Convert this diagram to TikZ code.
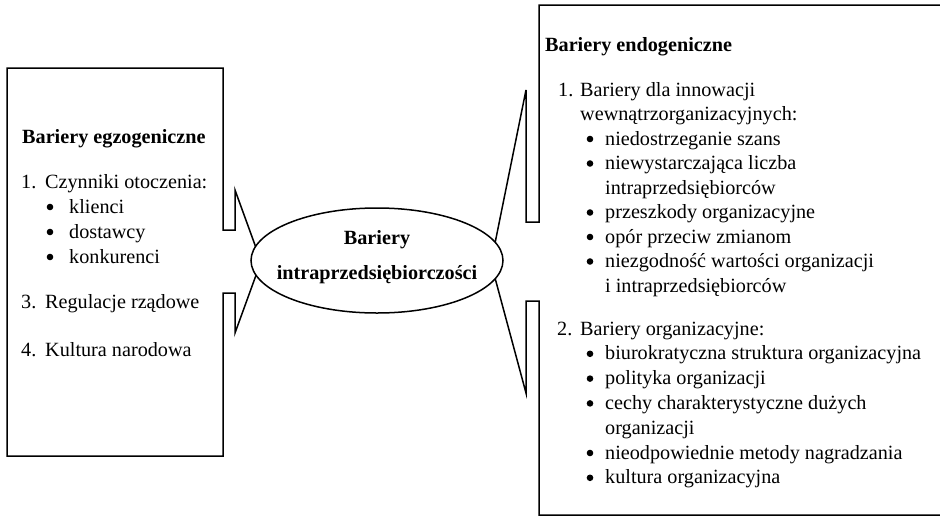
\documentclass[tikz,border=0pt]{standalone}
\usepackage{fontspec}
\setmainfont{Liberation Serif}
\usetikzlibrary{shapes.geometric}
\begin{document}
\begin{tikzpicture}[x=1pt,y=-1pt,
  outline/.style={line width=1.5pt, line join=miter},
  txt/.style={anchor=base west, inner sep=0pt, font=\fontsize{20.2}{24}\selectfont},
  head/.style={anchor=base west, inner sep=0pt, font=\fontsize{20.2}{24}\selectfont\bfseries},
  bul/.style={circle, fill, inner sep=0pt, minimum size=6.6pt, yshift=6pt},
  ctr/.style={anchor=base, inner sep=0pt, font=\fontsize{20.2}{24}\selectfont\bfseries}]
\useasboundingbox (0,0) rectangle (940,517);
\clip (0,0) rectangle (940,517);

% pointer tips of the two callouts (hidden under the ellipse)
\coordinate (ltip) at (261,261.5);
\coordinate (rtip) at (491,263);

% left callout: exogenous barriers
\draw[outline] (7,68) -- (223,68) -- (223,230) -- (235,230) -- (235,190)
  -- (ltip) -- (235,333) -- (235,293) -- (223,293) -- (223,456) -- (7,456) -- cycle;

% right callout: endogenous barriers
\draw[outline] (539,5) -- (960,5) -- (960,515) -- (539,515) -- (539,301)
  -- (526,301) -- (526,393) -- (rtip) -- (526,90) -- (526,222) -- (539,222) -- cycle;

% central ellipse
\node[ellipse, draw, outline, fill=white, minimum width=252pt, minimum height=105pt,
  inner sep=0pt] (core) at (377,260.5) {};
\node[ctr] (core1) at (377,244) {Bariery};
\node[ctr] (core2) at (377,279) {intraprzedsiębiorczości};

% left text
\node[head] (lh) at (22,143) {Bariery egzogeniczne};
\node[txt] (ln1) at (21,188) {1.};
\node[txt] (lt1) at (45,188) {Czynniki otoczenia:};
\node[bul] (lb1) at (50,213) {};
\node[txt] (li1) at (69,213) {klienci};
\node[bul] (lb2) at (50,238) {};
\node[txt] (li2) at (69,238) {dostawcy};
\node[bul] (lb3) at (50,263) {};
\node[txt] (li3) at (69,263) {konkurenci};
\node[txt] (ln3) at (21,308) {3.};
\node[txt] (lt3) at (45,308) {Regulacje rządowe};
\node[txt] (ln4) at (21,356) {4.};
\node[txt] (lt4) at (45,356) {Kultura narodowa};

% right text
\node[head] (rh) at (545,51) {Bariery endogeniczne};
\node[txt] (rn1) at (558,96) {1.};
\node[txt] (rt1a) at (580,96) {Bariery dla innowacji};
\node[txt] (rt1b) at (580,120.5) {wewnątrzorganizacyjnych:};
\node[bul] (rb1) at (590,145) {};
\node[txt] (ri1) at (605,145) {niedostrzeganie szans};
\node[bul] (rb2) at (590,169.5) {};
\node[txt] (ri2) at (605,169.5) {niewystarczająca liczba};
\node[txt] (ri2b) at (605,194) {intraprzedsiębiorców};
\node[bul] (rb3) at (590,218.5) {};
\node[txt] (ri3) at (605,218.5) {przeszkody organizacyjne};
\node[bul] (rb4) at (590,243) {};
\node[txt] (ri4) at (605,243) {opór przeciw zmianom};
\node[bul] (rb5) at (590,267.5) {};
\node[txt] (ri5) at (605,267.5) {niezgodność wartości organizacji};
\node[txt] (ri5b) at (605,292) {i intraprzedsiębiorców};

\node[txt] (rn2) at (557,335) {2.};
\node[txt] (rt2) at (580,335) {Bariery organizacyjne:};
\node[bul] (rb6) at (590,359.8) {};
\node[txt] (ri6) at (605,359.8) {biurokratyczna struktura organizacyjna};
\node[bul] (rb7) at (590,384.6) {};
\node[txt] (ri7) at (605,384.6) {polityka organizacji};
\node[bul] (rb8) at (590,409.4) {};
\node[txt] (ri8) at (605,409.4) {cechy charakterystyczne dużych};
\node[txt] (ri8b) at (605,434.2) {organizacji};
\node[bul] (rb9) at (590,459) {};
\node[txt] (ri9) at (605,459) {nieodpowiednie metody nagradzania};
\node[bul] (rb10) at (590,483.8) {};
\node[txt] (ri10) at (605,483.8) {kultura organizacyjna};
\end{tikzpicture}
\end{document}
